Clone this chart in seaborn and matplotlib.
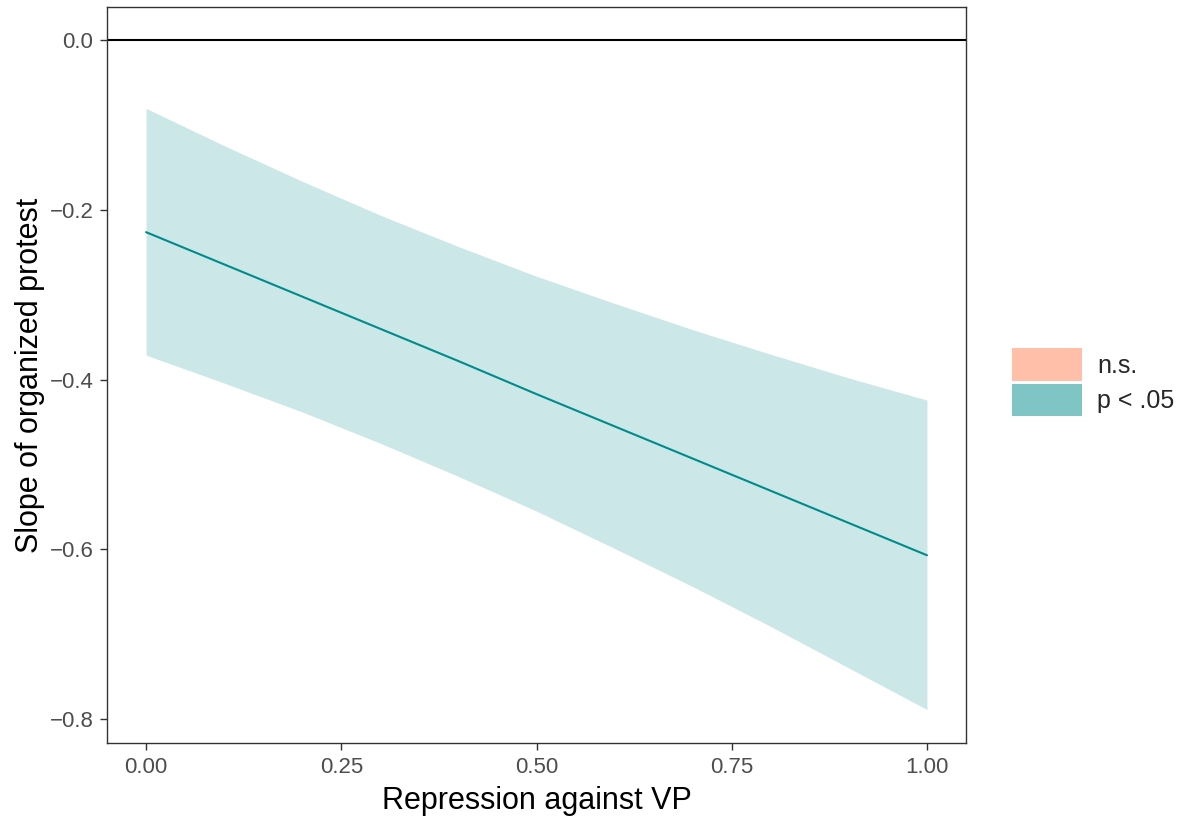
import matplotlib
matplotlib.use("Agg")
import matplotlib.pyplot as plt
from matplotlib.patches import Patch
import seaborn as sns
import pandas as pd

# Data
repression = [0.0, 0.1, 0.2, 0.3, 0.4, 0.5, 0.6, 0.7, 0.8, 0.9, 1.0]
slope = [-0.226, -0.264, -0.302, -0.340, -0.378, -0.417, -0.455, -0.493, -0.531, -0.569, -0.607]
upper = [-0.080, -0.124, -0.166, -0.206, -0.243, -0.278, -0.310, -0.341, -0.370, -0.398, -0.424]
lower = [-0.371, -0.404, -0.438, -0.475, -0.514, -0.555, -0.599, -0.644, -0.691, -0.740, -0.789]
legend_labels = ["n.s.", "p < .05"]
legend_colors = ["#FFBFA8", "#80C5C5"]
x_ticks = [0.0, 0.25, 0.5, 0.75, 1.0]
x_ticklabels = ["0.00", "0.25", "0.50", "0.75", "1.00"]
y_ticks = [0.0, -0.2, -0.4, -0.6, -0.8]
y_ticklabels = ["0.0", "\u22120.2", "\u22120.4", "\u22120.6", "\u22120.8"]

df = pd.DataFrame({"x": repression, "y": slope, "lo": lower, "hi": upper})

sns.set_theme(style="white")
plt.rcParams["font.family"] = ["Liberation Sans", "DejaVu Sans"]
tick_fs, title_fs, leg_fs = 16, 22, 18

fig = plt.figure(figsize=(11.87, 8.18), dpi=100)
ax = fig.add_axes([107/1187, 1 - 743/818, (966-107)/1187, (743-7)/818])

ax.fill_between(df["x"], df["lo"], df["hi"], color="#008B8B", alpha=0.2, linewidth=0)
sns.lineplot(data=df, x="x", y="y", ax=ax, color="#008B8B", linewidth=1.5)
ax.axhline(0, color="black", linewidth=1.5)

ax.set_xlim(-0.05, 1.05)
ax.set_ylim(-0.8284, 0.0395)
ax.set_xticks(x_ticks)
ax.set_xticklabels(x_ticklabels)
ax.set_yticks(y_ticks)
ax.set_yticklabels(y_ticklabels)
ax.tick_params(axis="both", which="major", length=5, width=1, color="#333333",
               labelsize=tick_fs, labelcolor="#4D4D4D", pad=4.8, bottom=True, left=True)
for s in ax.spines.values():
    s.set_color("#333333")
    s.set_linewidth(1)
ax.set_xlabel("Repression against VP", fontsize=title_fs, color="black", labelpad=6)
ax.set_ylabel("Slope of organized protest", fontsize=title_fs, color="black", labelpad=3.5)

handles = [Patch(facecolor=c, edgecolor="none", label=l) for c, l in zip(legend_colors, legend_labels)]
fig.legend(handles=handles, loc="center left", bbox_to_anchor=(1000/1187, 1 - 382/818),
           frameon=False, fontsize=leg_fs, handlelength=70/(leg_fs*1.389),
           handleheight=1.6,
           labelspacing=0.12, handletextpad=15/(leg_fs*1.389), borderpad=0)

fig.savefig("out.png", dpi=100)
